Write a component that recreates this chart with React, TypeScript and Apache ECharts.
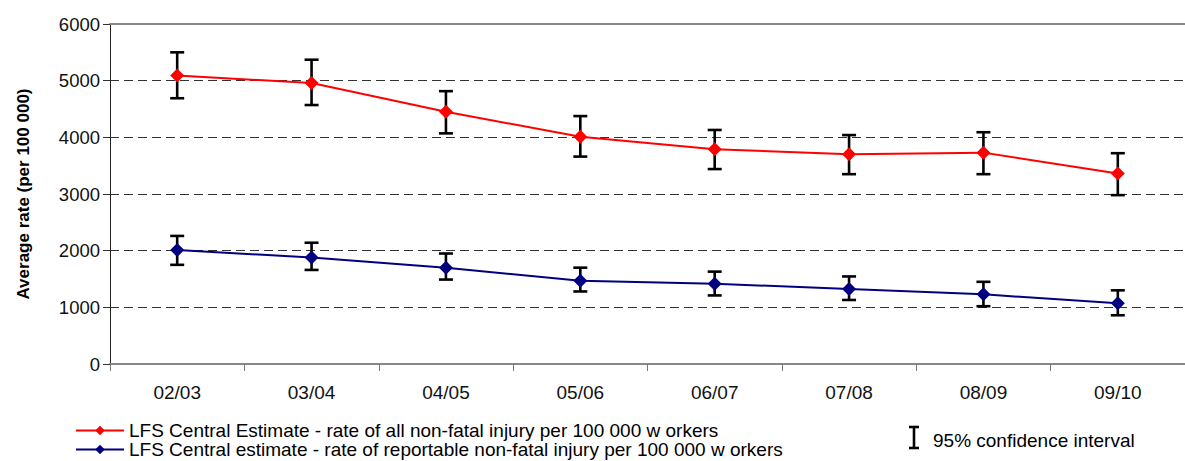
import React, { useEffect, useRef } from "react";
import * as echarts from "echarts";

const categories = ["02/03", "03/04", "04/05", "05/06", "06/07", "07/08", "08/09", "09/10"];
const allInjury = [5090, 4960, 4450, 4010, 3790, 3700, 3730, 3360];
const allLow = [4690, 4570, 4070, 3660, 3440, 3350, 3350, 2980];
const allHigh = [5500, 5370, 4815, 4375, 4130, 4040, 4090, 3720];
const reportable = [2010, 1880, 1700, 1470, 1415, 1325, 1230, 1070];
const repLow = [1750, 1660, 1490, 1280, 1210, 1130, 1020, 860];
const repHigh = [2260, 2140, 1950, 1700, 1630, 1545, 1450, 1300];
const yTicks = { min: 0, max: 6000, interval: 1000 };

const seriesNames = [
  "LFS Central Estimate - rate of all non-fatal injury per 100 000 w orkers",
  "LFS Central estimate - rate of reportable non-fatal injury per 100 000 w orkers",
];
const ciLabel = "95% confidence interval";
const yAxisTitle = "Average rate (per 100 000)";

const FONT = "'Liberation Sans', Arial, sans-serif";

export default function App() {
  const ref = useRef<HTMLDivElement>(null);
  useEffect(() => {
    if (!ref.current) return;
    const chart = echarts.init(ref.current, undefined, { renderer: "svg" });
    const ciData = [
      ...allLow.map((l, i) => [i, l, allHigh[i]]),
      ...repLow.map((l, i) => [i, l, repHigh[i]]),
    ];
    const legendBase = {
      orient: "horizontal",
      left: 75,
      padding: 0,
      itemWidth: 48,
      itemHeight: 12,
      itemGap: 5,
      textStyle: { fontSize: 19, color: "#000", fontFamily: FONT },
    };
    chart.setOption({
      animation: false,
      textStyle: { fontFamily: FONT },
      grid: { left: 110, right: -13, top: 24, bottom: 97 },
      xAxis: [
        {
          type: "category",
          data: categories,
          axisLine: { lineStyle: { color: "#888", width: 2 } },
          axisTick: { show: true, length: 7, lineStyle: { color: "#777", width: 1 } },
          axisLabel: { color: "#111", fontSize: 19, margin: 19, fontFamily: FONT },
        },
        {
          type: "category",
          data: categories,
          position: "top",
          axisLine: { lineStyle: { color: "#888", width: 2 } },
          axisTick: { show: false },
          axisLabel: { show: false },
        },
      ],
      yAxis: {
        type: "value",
        min: yTicks.min,
        max: yTicks.max,
        interval: yTicks.interval,
        name: yAxisTitle,
        nameLocation: "middle",
        nameGap: 78,
        nameTextStyle: { fontSize: 17, fontWeight: "bold", color: "#000", fontFamily: FONT },
        axisLine: { show: true, lineStyle: { color: "#222", width: 1 } },
        axisTick: { show: true, length: 7, lineStyle: { color: "#333" } },
        axisLabel: {
          color: "#111",
          fontSize: 18.5,
          margin: 10,
          fontFamily: FONT,
          formatter: (v: number) => String(v),
        },
        splitLine: { show: true, lineStyle: { color: "#333", width: 1, type: [9, 5] } },
      },
      legend: [
        { ...legendBase, top: 421, data: [seriesNames[0]] },
        { ...legendBase, top: 440, data: [seriesNames[1]] },
      ],
      series: [
        {
          type: "custom",
          name: "ci",
          z: 1,
          data: ciData,
          renderItem: (params: any, api: any) => {
            const x = api.value(0);
            const lo = api.coord([x, api.value(1)]);
            const hi = api.coord([x, api.value(2)]);
            const hw = 7;
            const style = { stroke: "#000", lineWidth: 2.6 };
            return {
              type: "group",
              children: [
                { type: "line", shape: { x1: lo[0], y1: lo[1], x2: hi[0], y2: hi[1] }, style },
                { type: "line", shape: { x1: hi[0] - hw, y1: hi[1], x2: hi[0] + hw, y2: hi[1] }, style },
                { type: "line", shape: { x1: lo[0] - hw, y1: lo[1], x2: lo[0] + hw, y2: lo[1] }, style },
              ],
            };
          },
        },
        {
          type: "line",
          name: seriesNames[0],
          z: 5,
          data: allInjury,
          symbol: "diamond",
          symbolSize: 14,
          lineStyle: { color: "#ff0000", width: 2 },
          itemStyle: { color: "#ff0000" },
        },
        {
          type: "line",
          name: seriesNames[1],
          z: 5,
          data: reportable,
          symbol: "diamond",
          symbolSize: 14,
          lineStyle: { color: "#000080", width: 2 },
          itemStyle: { color: "#000080" },
        },
      ],
      graphic: [
        { type: "line", shape: { x1: 914, y1: 427, x2: 914, y2: 448 }, style: { stroke: "#000", lineWidth: 2.6 } },
        { type: "line", shape: { x1: 909, y1: 427, x2: 919, y2: 427 }, style: { stroke: "#000", lineWidth: 2.6 } },
        { type: "line", shape: { x1: 909, y1: 448, x2: 919, y2: 448 }, style: { stroke: "#000", lineWidth: 2.6 } },
        {
          type: "text",
          x: 933,
          y: 440,
          style: { text: ciLabel, fontSize: 19, fill: "#000", fontFamily: FONT, verticalAlign: "middle" },
        },
      ],
    });
    return () => chart.dispose();
  }, []);
  return <div ref={ref} style={{ width: 1185, height: 461, position: "absolute", left: 0, top: 0 }} />;
}
